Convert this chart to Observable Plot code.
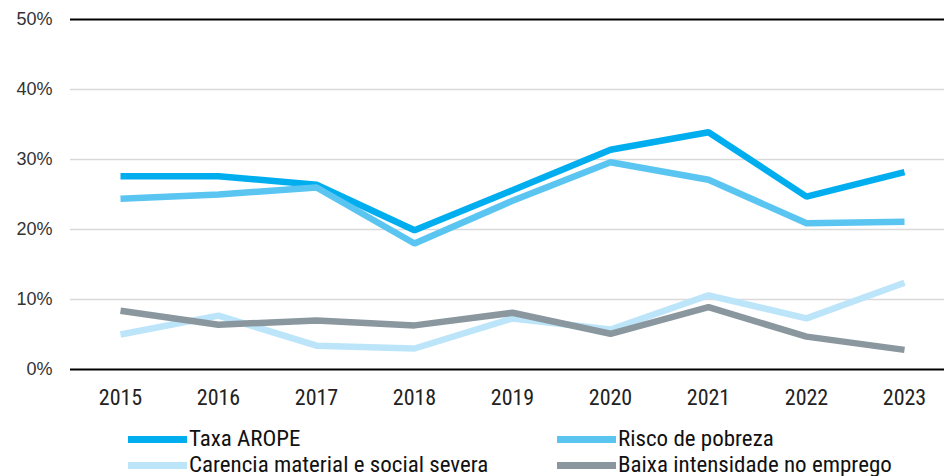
<!DOCTYPE html>
<html>
<head>
<meta charset="utf-8">
<script src="https://cdn.jsdelivr.net/npm/d3@7"></script>
<script src="https://cdn.jsdelivr.net/npm/@observablehq/plot@0.6"></script>
<style>
  html, body { margin: 0; padding: 0; background: #fff; }
  #wrap { position: relative; width: 944px; height: 476px; overflow: hidden; }
  .leg { position: absolute; display: flex; align-items: center; height: 22px; white-space: nowrap; }
  .sw { width: 59px; height: 7px; margin-right: 2px; flex: none; }
  .lt { font-family: "Roboto Condensed", Roboto, sans-serif; font-size: 22px; color: #111; line-height: 1; display: inline-block; transform-origin: left center; }
</style>
</head>
<body>
<div id="wrap"></div>
<script>
const years = [2015, 2016, 2017, 2018, 2019, 2020, 2021, 2022, 2023];
const seriesNames = ["Taxa AROPE", "Risco de pobreza", "Carencia material e social severa", "Baixa intensidade no emprego"];
const taxaArope = [27.6, 27.6, 26.4, 19.9, 25.6, 31.4, 33.9, 24.7, 28.2];
const riscoPobreza = [24.4, 25.0, 26.0, 18.0, 24.1, 29.6, 27.1, 20.9, 21.1];
const carencia = [5.0, 7.7, 3.4, 3.0, 7.3, 5.7, 10.6, 7.3, 12.4];
const baixaIntensidade = [8.4, 6.4, 7.0, 6.3, 8.1, 5.1, 8.9, 4.7, 2.8];
const colors = ["#00aeef", "#5bc5f2", "#bde5fa", "#8a979f"];
const yTicks = [0, 10, 20, 30, 40, 50];
const gridTicks = [10, 20, 30, 40];
const frameTicks = [0, 50];

const allValues = [taxaArope, riscoPobreza, carencia, baixaIntensidade];
const data = [];
seriesNames.forEach((s, i) => years.forEach((y, j) => data.push({series: s, year: y, value: allValues[i][j]})));

const chart = Plot.plot({
  width: 944,
  height: 420,
  marginTop: 19,
  marginBottom: 51,
  marginLeft: 70,
  marginRight: 0,
  style: {fontFamily: "'Liberation Sans', Arial, sans-serif", background: "#fff"},
  x: {type: "point", domain: years, range: [118, 905], padding: 0},
  y: {domain: [0, 50]},
  color: {domain: seriesNames, range: colors},
  marks: [
    Plot.ruleY(gridTicks, {stroke: "#d9d9d9", strokeWidth: 1.3}),
    Plot.ruleY(frameTicks, {stroke: "#000", strokeWidth: 2}),
    Plot.axisY(yTicks, {tickSize: 0, tickPadding: 18, tickFormat: d => d + "%", fontSize: 18, fill: "#333", label: null}),
    Plot.axisX(years, {tickSize: 0, tickPadding: 20, tickFormat: d => String(d), fontSize: 22, fill: "#222", label: null, fontFamily: "'Roboto Condensed', Roboto, sans-serif"}),
    Plot.line(data, {x: "year", y: "value", z: "series", stroke: "series", strokeWidth: 6.5, strokeLinejoin: "miter", strokeLinecap: "butt"})
  ]
});
const wrap = document.getElementById("wrap");
wrap.appendChild(chart);

const legPos = [[128, 439], [557, 439], [128, 465], [557, 465]];
seriesNames.forEach((s, i) => {
  const d = document.createElement("div");
  d.className = "leg";
  d.style.left = legPos[i][0] + "px";
  d.style.top = (legPos[i][1] - 11) + "px";
  const sw = document.createElement("span");
  sw.className = "sw";
  sw.style.background = colors[i];
  const tx = document.createElement("span");
  tx.className = "lt";
  tx.style.transform = "scaleX(1.045)";
  tx.textContent = s;
  d.appendChild(sw); d.appendChild(tx);
  wrap.appendChild(d);
});
</script>
</body>
</html>
